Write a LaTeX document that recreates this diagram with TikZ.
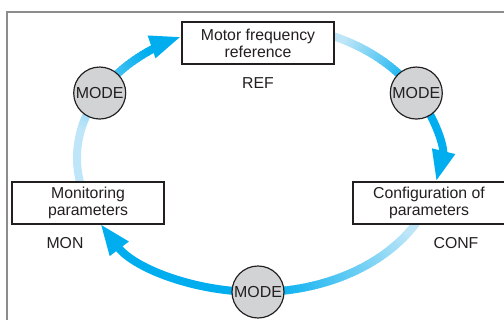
\documentclass[tikz,border=0pt]{standalone}
\usepackage{fontspec}
\setmainfont{Liberation Sans}
\usetikzlibrary{arrows.meta}
\definecolor{ink}{HTML}{231F20}
\definecolor{loopcyan}{HTML}{00AEEF}
\definecolor{palecyan}{HTML}{BEE6F8}
\definecolor{keygray}{HTML}{D1D3D4}
\definecolor{framegray}{HTML}{8C8C8C}

\begin{document}
\begin{tikzpicture}[x=0.03cm, y=-0.03cm,
  param/.style={draw=ink, line width=1.1pt, fill=white, minimum width=4.56cm, minimum height=1.26cm, inner sep=1pt, align=center, font=\fontsize{13.5}{14.4}\selectfont, text=ink},
  modekey/.style={circle, draw=ink, line width=1pt, fill=keygray, minimum size=1.56cm, inner sep=0pt, font=\fontsize{13.6}{14}\selectfont, text=ink},
  tag/.style={font=\fontsize{13.5}{14}\selectfont, text=ink},
  ring/.style={line width=0.24cm},
  arr/.style={ring, draw=loopcyan, -{Triangle[length=0.95cm, width=0.64cm]}},
]
\useasboundingbox (0,0) rectangle (504,320);
\draw[framegray, line width=1.1pt] (7,330) -- (7,12) -- (520,12);

\coordinate (hub) at (258,158);
% loop: pale start, fade, then solid arrow into the next box
\foreach \s/\g/\h/\e in {169/192/232/245, 294/298/326/370.3, 29/33/86/150.7}{
  \draw[ring, palecyan] (hub) ++(\s:181 and 134) arc[start angle=\s, end angle=\g+0.5, x radius=181, y radius=134];
  \pgfmathtruncatemacro\last{\h-1}
  \foreach \t in {\g,...,\last}{
    \pgfmathtruncatemacro\p{100*(\t-\g)/(\h-\g)}
    \draw[ring, draw=loopcyan!\p!palecyan] (hub) ++(\t:181 and 134) arc[start angle=\t, end angle=\t+1.4, x radius=181, y radius=134];
  }
  \draw[arr] (hub) ++(\h:181 and 134) arc[start angle=\h, end angle=\e, x radius=181, y radius=134];
}

% boxes
\node[param] (ref) at (258,43) {Motor frequency\\reference};
\node[param] (mon) at (88,203) {Monitoring\\parameters};
\node[param] (conf) at (429,203) {Configuration of\\parameters};
\node[tag] (reftag) at (258,83) {REF};
\node[tag] (montag) at (65,243) {MON};
\node[tag] (conftag) at (456,243) {CONF};

% mode keys
\path (hub) ++(209:181 and 134) node[modekey] (modeL) {MODE};
\path (hub) ++(331:181 and 134) node[modekey] (modeR) {MODE};
\path (hub) ++(90:181 and 134) node[modekey] (modeB) {MODE};
\end{tikzpicture}
\end{document}
